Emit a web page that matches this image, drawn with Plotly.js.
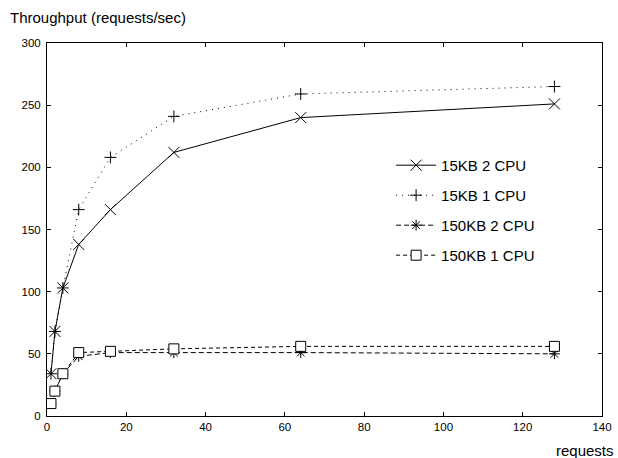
<!DOCTYPE html>
<html>
<head>
<meta charset="utf-8">
<script src="https://cdn.plot.ly/plotly-3.0.1.min.js"></script>
<style>html,body{margin:0;padding:0;background:#fff;}#chart{width:618px;height:458px;}</style>
</head>
<body>
<div id="chart"></div>
<script>
const requests = [1, 2, 4, 8, 16, 32, 64, 128];
const kb15cpu2 = [34, 68, 103, 138, 166, 212, 240, 251];
const kb15cpu1 = [34, 68, 103, 166, 208, 241, 259, 265];
const kb150cpu2 = [10, 20, 34, 48, 51, 51, 51, 50];
const kb150cpu1 = [10, 20, 34, 51, 52, 54, 56, 56];
const seriesNames = ["15KB 2 CPU", "15KB 1 CPU", "150KB 2 CPU", "150KB 1 CPU"];
const xTicks = [0, 20, 40, 60, 80, 100, 120, 140];
const yTicks = [0, 50, 100, 150, 200, 250, 300];

const font = "Liberation Sans, Arial, sans-serif";
const traces = [
  {x: requests, y: kb15cpu2, name: seriesNames[0], legendgroup: "a",
   mode: "lines+markers", line: {color: "#000", width: 1, dash: "solid"},
   marker: {symbol: "x-thin-open", size: 11, color: "#000", line: {color: "#000", width: 1}}},
  {x: requests, y: kb15cpu1, name: seriesNames[1], legendgroup: "b",
   mode: "lines+markers", line: {color: "#000", width: 1, dash: "1px,5px"},
   marker: {symbol: "cross-thin-open", size: 8.5, color: "#000", line: {color: "#000", width: 1}}},
  {x: requests, y: kb150cpu2, name: seriesNames[2], legendgroup: "c",
   mode: "lines+markers", line: {color: "#000", width: 1, dash: "5px,3px"},
   marker: {symbol: "asterisk-open", size: 9, color: "#000", line: {color: "#000", width: 1}}},
  {x: requests, y: kb150cpu1, name: seriesNames[3], legendgroup: "d",
   mode: "lines+markers", line: {color: "#000", width: 1, dash: "4px,3px"},
   marker: {symbol: "square", size: 10, color: "#fff", line: {color: "#000", width: 1}}}
];

const axisCommon = {
  showgrid: false, zeroline: false, showline: true, linecolor: "#000", linewidth: 1,
  mirror: "allticks", ticks: "inside", ticklen: 4, tickcolor: "#000", tickwidth: 1,
  tickfont: {family: font, size: 11.5, color: "#000"}
};

const layout = {
  width: 618, height: 458,
  margin: {l: 47, r: 16, t: 43, b: 42, pad: 0},
  paper_bgcolor: "#fff", plot_bgcolor: "#fff",
  showlegend: true,
  legend: {x: 0.62, y: 0.716, xanchor: "left", yanchor: "top",
           bgcolor: "rgba(0,0,0,0)", borderwidth: 0, itemwidth: 40,
           traceorder: "grouped", tracegroupgap: 7.5,
           font: {family: font, size: 15, color: "#000"}},
  xaxis: Object.assign({}, axisCommon, {range: [0, 140], tickvals: xTicks, ticktext: xTicks.map(String)}),
  yaxis: Object.assign({}, axisCommon, {range: [0, 300], tickvals: yTicks, ticktext: yTicks.map(String), ticklabelstandoff: 3}),
  annotations: [
    {text: "Throughput (requests/sec)", xref: "paper", yref: "paper", x: -0.07, y: 1.041,
     xanchor: "left", yanchor: "bottom", showarrow: false, font: {family: font, size: 15, color: "#000"}},
    {text: "requests", xref: "paper", yref: "paper", x: 1.026, y: -0.064,
     xanchor: "right", yanchor: "top", showarrow: false, font: {family: font, size: 15, color: "#000"}}
  ]
};

Plotly.newPlot("chart", traces, layout, {displayModeBar: false, staticPlot: true});
</script>
</body>
</html>
